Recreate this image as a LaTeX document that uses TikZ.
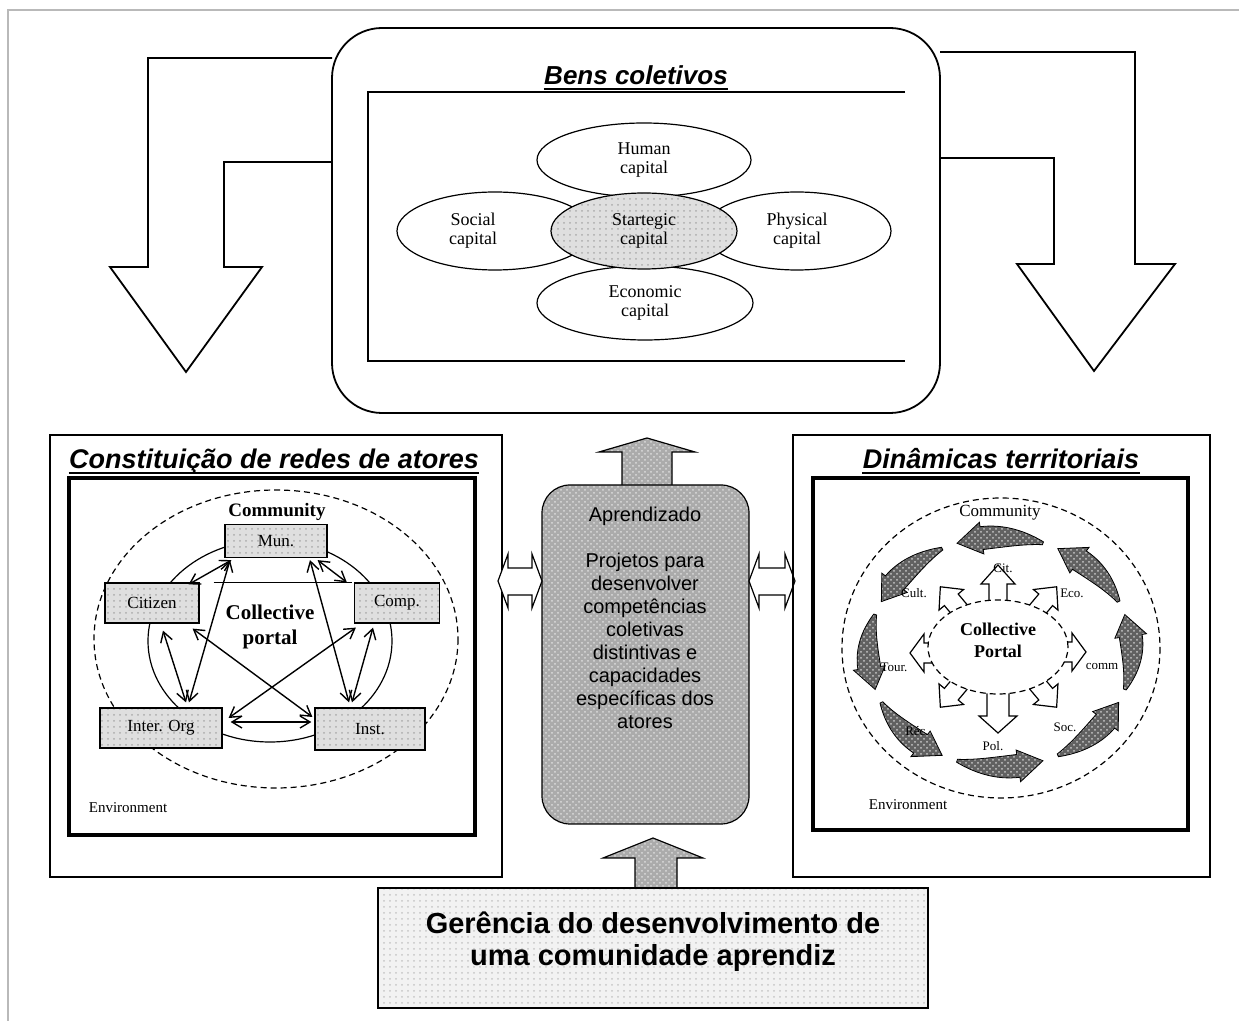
\documentclass[tikz,border=0pt]{standalone}
\usepackage{fontspec}
\setmainfont{Liberation Serif}
\setsansfont{Liberation Sans}
\usetikzlibrary{shapes.geometric,arrows.meta,calc,patterns}
\newcommand\crescentarrow[1]{%
 \pgfmathsetmacro\cta{#1-19}%
 \pgfmathsetmacro\ctb{#1+8}%
 \pgfmathsetmacro\ctc{#1+19}%
 \filldraw[cresc] plot[domain=\cta:\ctb, samples=16, smooth] ({1000+(132+1.5+10*sin(90*(\x-\cta)/27))*cos(\x)}, {652-(115+1.5+10*sin(90*(\x-\cta)/27))*sin(\x)})
  -- ({1000+148*cos(\ctb)}, {652-131*sin(\ctb)})
  -- ({1000+132*cos(\ctc)}, {652-115*sin(\ctc)})
  -- ({1000+116*cos(\ctb)}, {652-99*sin(\ctb)})
  -- plot[domain=\ctb:\cta, samples=16, smooth] ({1000+(132-1.5-10*sin(90*(\x-\cta)/27))*cos(\x)}, {652-(115-1.5-10*sin(90*(\x-\cta)/27))*sin(\x)})
  -- cycle;}
\newcommand\hollowarrow[7]{%
 \begin{scope}[shift={(#1,#2)}, rotate=#3]
 \draw[hollow] (-10,-#6) -- (#4,-#6) -- (#4,-#7) -- ({#4+#5},0) -- (#4,#7) -- (#4,#6) -- (-10,#6) -- cycle;
 \end{scope}}
\begin{document}
\begin{tikzpicture}[x=0.5pt,y=-0.5pt,line width=0.6pt,
  thinline/.style={line width=0.6pt},
  boxline/.style={line width=0.9pt},
  thickline/.style={line width=1.6pt},
  titletext/.style={font=\sffamily\bfseries\itshape\fontsize{13.5}{15}\selectfont, inner sep=0pt, anchor=base},
  uline/.style={line width=1.4pt},
  capfont/.style={font=\fontsize{9}{9.5}\selectfont},
  capell/.style={ellipse, draw, thinline, inner sep=0pt, align=center, capfont},
  ltshade/.style={preaction={fill=gray!25}, pattern=dots, pattern color=gray!65},
  dkshade/.style={preaction={fill=gray!66}, pattern=crosshatch dots, pattern color=gray!28},
  gershade/.style={preaction={fill=gray!10}, pattern=dots, pattern color=gray!45},
  actor/.style={draw, thinline, ltshade, inner sep=0pt, font=\fontsize{8.5}{9}\selectfont},
  dbl/.style={{Straight Barb[length=5pt,width=6pt]}-{Straight Barb[length=5pt,width=6pt]}, line width=0.7pt},
  smalllab/.style={font=\fontsize{6.5}{7}\selectfont, inner sep=0pt},
  envlab/.style={font=\fontsize{7.5}{8}\selectfont, inner sep=0pt},
  commlab/.style={font=\bfseries\fontsize{9.5}{10}\selectfont, inner sep=0pt},
  hollow/.style={draw, thinline, fill=white},
  cresc/.style={draw=black, line width=0.4pt, preaction={fill=black!62}, pattern=crosshatch dots, pattern color=gray!45},
]
\useasboundingbox (0,0) rectangle (1239,1021);
\fill[white] (0,0) rectangle (1239,1021);
\draw[gray!55, line width=0.8pt] (8,1021) -- (8,10) -- (1239,10);

% bent hollow arrows
\draw[boxline] (332,58) -- (148,58) -- (148,267) -- (110,267) -- (186,372) -- (262,267) -- (224,267) -- (224,162) -- (332,162);
\draw[boxline] (940,52) -- (1135,52) -- (1135,264) -- (1175,264) -- (1094,371) -- (1017,264) -- (1054,264) -- (1054,158) -- (940,158);

% Bens coletivos
\node[draw, boxline, fill=white, rounded corners=25pt, minimum width=304pt, minimum height=192.5pt, inner sep=0pt] (bens) at (636,220.5) {};
\node[titletext, font=\sffamily\bfseries\itshape\fontsize{13}{15}\selectfont] (bt) at (636,85) {Bens coletivos};
\draw[uline] ($(bt.base west)+(0,4)$) -- ($(bt.base east)+(0,4)$);
\draw[boxline] (905,92) -- (368,92) -- (368,361) -- (905,361);
\node[capell, minimum width=107pt, minimum height=37pt] (hum) at (644,160) {Human\\capital};
\node[capell, minimum width=98pt, minimum height=39pt, label={[capfont, align=center, xshift=-11pt]center:Social\\capital}] (soc) at (495,231) {};
\node[capell, minimum width=94pt, minimum height=39pt] (phy) at (797,231) {Physical\\capital};
\node[capell, minimum width=108pt, minimum height=37pt] (eco) at (645,303) {Economic\\capital};
\node[capell, ltshade, minimum width=93pt, minimum height=38pt] (str) at (644,231) {Startegic\\capital};

% left panel
\node[draw, boxline, minimum width=226pt, minimum height=221pt, inner sep=0pt] (lpan) at (276,656) {};
\node[titletext] (lt) at (274,469) {Constituição de redes de atores};
\draw[uline] ($(lt.base west)+(0,4)$) -- ($(lt.base east)+(0,4)$);
\draw[thickline] (69,478) rectangle (475,835);
\draw[thinline, densely dashed] (276,639) ellipse [x radius=182, y radius=149];
\draw[thinline] (270,641) ellipse [x radius=122, y radius=101];
\node[commlab] (lcom) at (277,512) {Community};
\node[font=\bfseries\fontsize{10.5}{12.5}\selectfont, align=center, inner sep=0pt] (lcp) at (270,627) {Collective\\portal};
\node[envlab] (lenv) at (128,808) {Environment};
\node[actor, minimum width=51pt, minimum height=16.5pt] (mun) at (276,541) {Mun.};
\node[actor, minimum width=47pt, minimum height=20pt] (cit) at (152,603) {Citizen};
\node[actor, minimum width=42.5pt, minimum height=20pt] (comp) at (397,603) {Comp.};
\node[actor, minimum width=61pt, minimum height=20pt] (iorg) at (161,728) {Inter. Org};
\node[actor, minimum width=55pt, minimum height=21pt] (inst) at (370,729) {Inst.};
\draw[thinline] ($(cit.north east)+(14,0)$) -- ($(comp.north west)+(-2,0)$);
\draw[dbl] ($(cit.south)+(11,7)$) -- ($(iorg.north)+(25,-5)$);
\draw[dbl] ($(mun.south)+(-46,2)$) -- ($(iorg.north)+(28,-5)$);
\draw[dbl] ($(cit.south east)+(-7,5)$) -- ($(inst.west)+(-2,-12)$);
\draw[dbl] ($(comp.south west)+(2,4)$) -- ($(iorg.east)+(6,-10)$);
\draw[dbl] ($(iorg.east)+(8,-6)$) -- ($(inst.west)+(-3,-7)$);
\draw[dbl] ($(mun.south)+(34,2)$) -- ($(inst.north)+(-21,-5)$);
\draw[dbl] ($(comp.south)+(-24,4)$) -- ($(inst.north)+(-18,-5)$);
\draw[dbl] ($(mun.south east)+(-10,2)$) -- ($(comp.north west)+(-7,0)$);
\draw[dbl] ($(mun.south west)+(7,2)$) -- ($(cit.north east)+(-11,2)$);

% centre
\draw[thinline, dkshade] (622,488) -- (622,452) -- (599,452) -- (647,438) -- (695,452) -- (672,452) -- (672,488) -- cycle;
\node[draw, thinline, dkshade, rounded corners=14pt, minimum width=103.5pt, minimum height=169.5pt, inner sep=0pt] (learn) at (645.5,654.5) {};
\node[font=\sffamily\fontsize{10}{11.5}\selectfont, align=center, inner sep=0pt] (ltext) at (645,618) {Aprendizado\\[11.5pt]Projetos para\\desenvolver\\competências\\coletivas\\distintivas e\\capacidades\\específicas dos\\atores};
\draw[hollow] (498,581) -- (508,554) -- (508,568) -- (532,568) -- (532,554) -- (542,581) -- (532,608) -- (532,595) -- (508,595) -- (508,608) -- cycle;
\draw[hollow] (749,581) -- (759,554) -- (759,568) -- (785,568) -- (785,554) -- (795,581) -- (785,608) -- (785,595) -- (759,595) -- (759,608) -- cycle;

% right panel
\node[draw, boxline, minimum width=208.5pt, minimum height=221pt, inner sep=0pt] (rpan) at (1001.5,656) {};
\node[titletext] (rt) at (1001,469) {Dinâmicas territoriais};
\draw[uline] ($(rt.base west)+(0,4)$) -- ($(rt.base east)+(0,4)$);
\draw[thickline] (813,478) rectangle (1188,830);
\draw[thinline, densely dashed] (1001,648) ellipse [x radius=159, y radius=150];
\node[commlab, font=\fontsize{8.5}{9}\selectfont] (rcom) at (1000,513) {Community};
\foreach \a in {0,45,...,315} {\crescentarrow{\a}}
\hollowarrow{998}{602}{90}{18}{19}{9}{17}
\hollowarrow{998}{692}{270}{24}{17}{11}{19}
\hollowarrow{930}{653}{180}{6}{14}{10}{19}
\hollowarrow{1066}{652}{0}{6}{14}{10}{19}
\hollowarrow{959}{609}{130}{12}{17}{9}{16}
\hollowarrow{1038}{609}{50}{12}{17}{9}{16}
\hollowarrow{959}{685}{230}{12}{17}{9}{16}
\hollowarrow{1038}{685}{310}{12}{17}{9}{16}
\node[ellipse, draw, thinline, densely dashed, fill=white, minimum width=70pt, minimum height=47pt, inner sep=0pt] (portal) at (998,647) {};
\node[font=\bfseries\fontsize{9}{11}\selectfont, align=center, inner sep=0pt] (ptext) at (998,640) {Collective\\Portal};
\node[smalllab] (lcit) at (1003,568) {Cit.};
\node[smalllab] (lcult) at (914,593) {Cult.};
\node[smalllab] (leco) at (1072,593) {Eco.};
\node[smalllab] (ltour) at (894,667) {Tour.};
\node[smalllab] (lcomm) at (1102,667) {comm};
\node[smalllab] (lrec) at (917,731) {Réc.};
\node[smalllab] (lpol) at (993,746) {Pol.};
\node[smalllab] (lsoc) at (1065,727) {Soc.};
\node[envlab] (renv) at (908,805) {Environment};

% bottom
\draw[thinline, dkshade] (635,892) -- (635,858) -- (603,858) -- (653,838) -- (703,858) -- (677,858) -- (677,892) -- cycle;
\node[draw, thinline, gershade, minimum width=275pt, minimum height=60pt, inner sep=0pt] (ger) at (653,948) {};
\node[font=\sffamily\bfseries\fontsize{14.5}{16}\selectfont, align=center, inner sep=0pt] (gtext) at (653,942) {Gerência do desenvolvimento de\\uma comunidade aprendiz};
\end{tikzpicture}
\end{document}
